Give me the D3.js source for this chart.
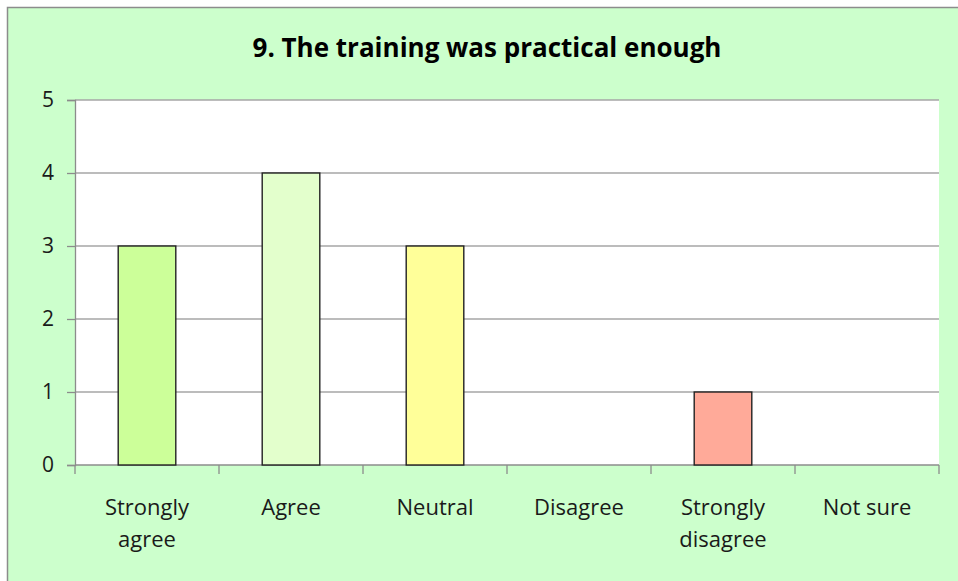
<!DOCTYPE html>
<html>
<head>
<meta charset="utf-8">
<script src="https://cdn.jsdelivr.net/npm/d3@7"></script>
<style>
  body { margin: 0; background: #fff; }
  svg { display: block; font-family: "Open Sans", "Noto Sans", sans-serif; }
</style>
</head>
<body>
<div id="chart"></div>
<script>
const categories = [["Strongly", "agree"], ["Agree"], ["Neutral"], ["Disagree"], ["Strongly", "disagree"], ["Not sure"]];
const counts = [3, 4, 3, 0, 1, 0];
const barColors = ["#ccff99", "#e3ffcc", "#ffff99", "#ff9999", "#ffaa99", "#cccccc"];
const yTicks = [0, 1, 2, 3, 4, 5];
const title = "9. The training was practical enough";

const width = 958, height = 581;
const marginTop = 100, marginRight = 19, marginBottom = 116, marginLeft = 75;

const svg = d3.select("#chart").append("svg")
    .attr("width", width)
    .attr("height", height);

// chart background with border on the visible edges
svg.append("rect")
    .attr("x", 7.5).attr("y", 7.5)
    .attr("width", width + 10).attr("height", height + 10)
    .attr("fill", "#ccffcc")
    .attr("stroke", "#8c8c8c")
    .attr("stroke-width", 1.5);

const x = d3.scaleBand()
    .domain(d3.range(categories.length))
    .range([marginLeft, width - marginRight])
    .paddingInner(0.6)
    .paddingOuter(0.3);

const y = d3.scaleLinear()
    .domain([0, 5])
    .range([height - marginBottom, marginTop]);

// plot area
svg.append("rect")
    .attr("x", marginLeft).attr("y", marginTop)
    .attr("width", width - marginRight - marginLeft)
    .attr("height", height - marginBottom - marginTop)
    .attr("fill", "#fff");

// gridlines
svg.append("g")
    .selectAll("line")
    .data(yTicks.filter(d => d > 0))
    .join("line")
    .attr("x1", marginLeft).attr("x2", width - marginRight)
    .attr("y1", d => y(d)).attr("y2", d => y(d))
    .attr("stroke", "#a6a6a6")
    .attr("stroke-width", 1.3);

// y axis
svg.append("g")
    .attr("transform", `translate(${marginLeft},0)`)
    .call(d3.axisLeft(y).tickValues(yTicks).tickSize(8).tickPadding(13).tickFormat(d3.format("d")))
    .call(g => g.select(".domain").attr("stroke", "#8c8c8c").attr("stroke-width", 1.3))
    .call(g => g.selectAll(".tick line").attr("stroke", "#8c8c8c").attr("stroke-width", 1.3))
    .call(g => g.selectAll("text").attr("font-size", 21).attr("fill", "#1a1a1a")
        .attr("font-family", "'Open Sans', sans-serif"));

// x axis: line + ticks at category boundaries
const boundaries = d3.range(categories.length + 1).map(i => marginLeft + i * (width - marginRight - marginLeft) / categories.length);
const xa = svg.append("g");
xa.append("line")
    .attr("x1", marginLeft).attr("x2", width - marginRight)
    .attr("y1", y(0)).attr("y2", y(0))
    .attr("stroke", "#8c8c8c").attr("stroke-width", 1.3);
xa.selectAll("line.tk")
    .data(boundaries)
    .join("line")
    .attr("class", "tk")
    .attr("x1", d => d).attr("x2", d => d)
    .attr("y1", y(0)).attr("y2", y(0) + 9)
    .attr("stroke", "#8c8c8c").attr("stroke-width", 1.3);

// category labels
svg.append("g")
    .selectAll("text")
    .data(categories)
    .join("text")
    .attr("text-anchor", "middle")
    .attr("font-size", 22)
    .attr("fill", "#1a1a1a")
    .attr("transform", (d, i) => `translate(${x(i) + x.bandwidth() / 2},${y(0) + 50})`)
    .selectAll("tspan")
    .data(d => d)
    .join("tspan")
    .attr("x", 0)
    .attr("dy", (d, i) => i === 0 ? 0 : 32)
    .text(d => d);

// bars
svg.append("g")
    .selectAll("rect")
    .data(counts.map((v, i) => ({v, i})).filter(d => d.v > 0))
    .join("rect")
    .attr("x", d => x(d.i))
    .attr("y", d => y(d.v))
    .attr("width", x.bandwidth())
    .attr("height", d => y(0) - y(d.v))
    .attr("fill", d => barColors[d.i])
    .attr("stroke", "#222")
    .attr("stroke-width", 1.4);

// title
svg.append("text")
    .attr("x", 487).attr("y", 57)
    .attr("text-anchor", "middle")
    .attr("font-size", 26)
    .attr("font-weight", "bold")
    .attr("fill", "#000")
    .text(title);
</script>
</body>
</html>
